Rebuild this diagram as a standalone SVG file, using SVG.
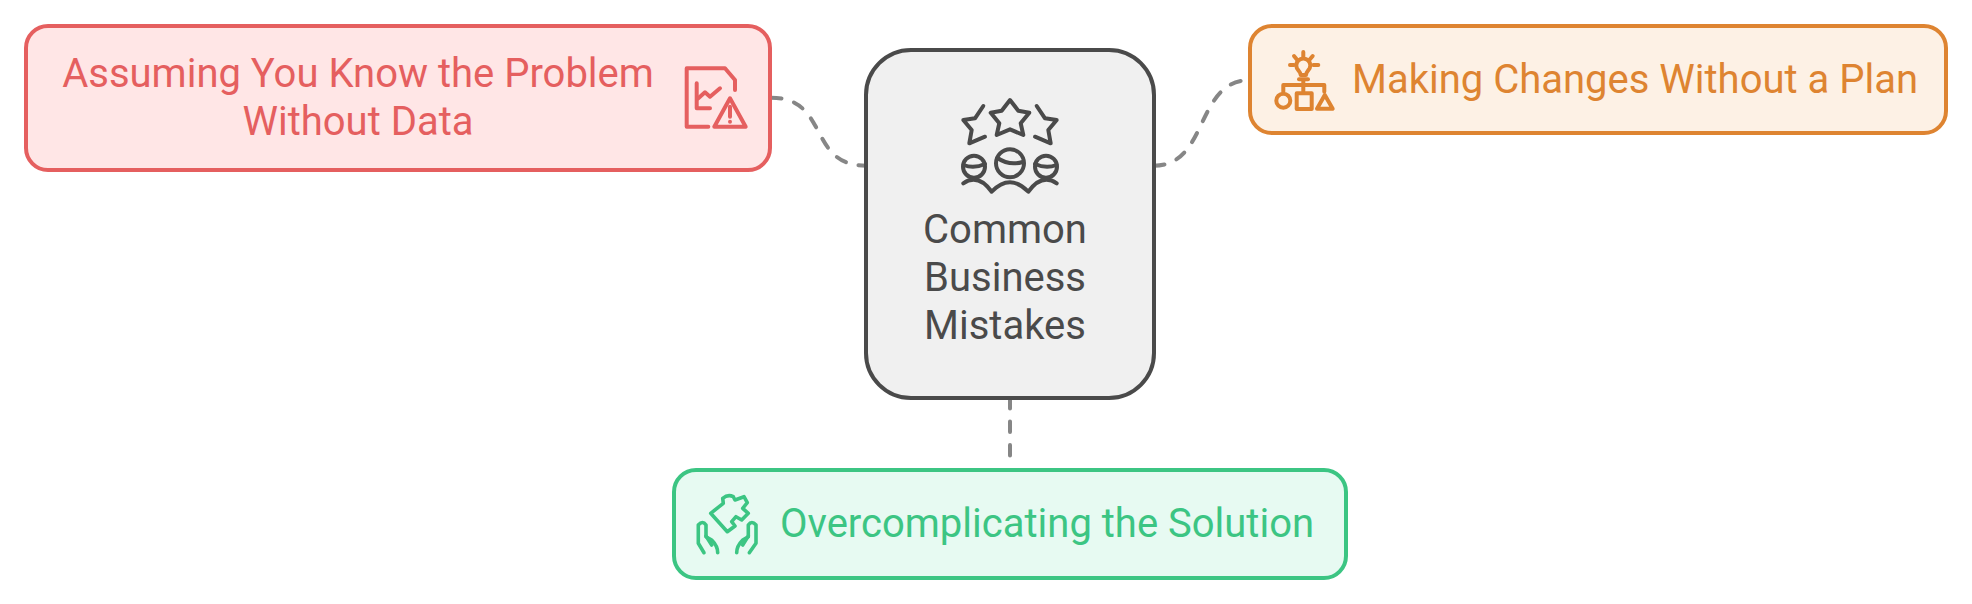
<svg xmlns="http://www.w3.org/2000/svg" width="1972" height="604" viewBox="0 0 1972 604">
<style>
text{font-family:Roboto,"Liberation Sans",sans-serif;font-size:40px}
.m{text-anchor:middle}
.box{stroke-width:4}
.ic{fill:none;stroke-width:4;stroke-linecap:round;stroke-linejoin:round}
.conn{fill:none;stroke:#868686;stroke-width:4;stroke-linecap:round;stroke-dasharray:10.5 13}
</style>
<rect width="1972" height="604" fill="#fff"/>
<g id="connectors">
<path class="conn" d="M771 97.7C830 97.7 807 165.7 866 165.7"/>
<path class="conn" d="M1154 165.7C1209 165.7 1195 80 1250 80"/>
<path class="conn" d="M1010 398V458"/>
</g>
<g id="node-center">
<rect class="box" x="866" y="50" width="288" height="348" rx="45" fill="#f0f0f0" stroke="#4a4a4a"/>
<g class="ic" stroke="#4a4a4a">
<path d="M1010 100L1018.3 110.7L1029.3 112.7L1020.7 123.3L1023.3 135L1010 129.3L996.7 135L999.3 123.3L990.7 112.7L1001.7 110.7Z"/>
<path d="M983.3 106L975 118.3L963.3 120L971.7 130L969.3 143.3L985 136.7"/>
<path d="M1036.7 106L1045 118.3L1056.7 120L1048.3 130L1050.7 143.3L1035 136.7"/>
<circle cx="1010" cy="163.3" r="14"/>
<path d="M997.5 158Q1009 166 1022.7 162"/>
<circle cx="974" cy="166.7" r="11"/>
<path d="M963.5 165Q974 169 985 164"/>
<circle cx="1046" cy="166.7" r="11"/>
<path d="M1035 164Q1046 169 1056.5 165"/>
<path d="M963.3 183.3Q978 173 991.7 191.7Q1010 173 1028.3 191.7Q1042 173 1056.7 183.3"/>
</g>
<text class="m" x="1005" y="243" fill="#4a4a4a">Common</text>
<text class="m" x="1005" y="291" fill="#4a4a4a">Business</text>
<text class="m" x="1005" y="339" fill="#4a4a4a">Mistakes</text>
</g>
<g id="node-assuming">
<rect class="box" x="26" y="26" width="744" height="144" rx="22" fill="#ffe6e6" stroke="#e55f5f"/>
<text class="m" x="358" y="87" fill="#e55f5f">Assuming You Know the Problem</text>
<text class="m" x="358" y="135" fill="#e55f5f">Without Data</text>
<g class="ic" stroke="#e55f5f">
<path d="M708.3 126.7H686.7V68.3H725L735 80V90"/>
<path d="M696.7 83.3V108.3H710"/>
<path d="M698.3 98.3L705 92.3L710 96.7L720 88.3"/>
<path d="M730 98.3L745.7 126.7H714.3Z"/>
<path d="M730 106.7V116.7"/>
<path d="M730 121.7V121.8"/>
</g>
</g>
<g id="node-making">
<rect class="box" x="1250" y="26" width="696" height="107" rx="22" fill="#fdf1e5" stroke="#de8431"/>
<text x="1352" y="93" fill="#de8431">Making Changes Without a Plan</text>
<g class="ic" stroke="#de8431">
<path d="M1303.3 52V56.7M1294 56L1297.3 60M1312.7 56L1309.3 60M1290 65H1294M1313.3 65H1318.3"/>
<path d="M1298.5 70.5A7 7 0 1 1 1308.1 70.5Q1306 73 1306 75H1300.7Q1300.7 73 1298.5 70.5Z"/>
<path d="M1299 79.3H1308"/>
<path d="M1303.3 80V91.7M1283.3 91.7V85H1324.3V91.7"/>
<circle cx="1283.3" cy="100.7" r="7"/>
<rect x="1296.7" y="93.3" width="15" height="15.7"/>
<path d="M1324.8 95L1332.7 108.7H1317Z"/>
</g>
</g>
<g id="node-overcomplicating">
<rect class="box" x="674" y="470" width="672" height="108" rx="22" fill="#e7faf2" stroke="#3cc583"/>
<text x="780" y="537" fill="#3cc583">Overcomplicating the Solution</text>
<g class="ic" stroke="#3cc583" style="stroke-width:3.6">
<path d="M710.7 513.3L723.3 503.3L722.7 498.3Q728 494 733.3 496.7L735 500L744 496.7L747.3 502.7L742.7 508.3L748.3 513.3L741.7 520L736 516.7L731.7 521.7L735 526L727.3 531.7Z"/>
<path d="M704 552.7L698.3 543.3V525Q702.7 520 706 525V536.7L711.7 540Q717.7 546 717.7 552.7"/>
<path d="M706 536L711.7 545"/>
<path d="M749.3 552.7L756 543.3V525Q751.7 520 748.3 525V536.7L742.7 540Q736.7 546 736.7 552.7"/>
<path d="M748.3 536L742.7 545"/>
</g>
</g>
</svg>
